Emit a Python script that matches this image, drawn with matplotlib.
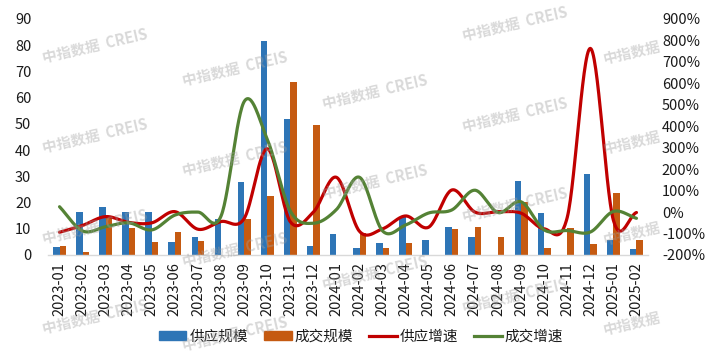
import numpy as np
import matplotlib
matplotlib.use("Agg")
import matplotlib.pyplot as plt
from matplotlib.ticker import FuncFormatter, MultipleLocator
from matplotlib.patches import Patch
from matplotlib.lines import Line2D

plt.rcParams['font.family'] = ['Noto Sans CJK SC', 'DejaVu Sans']

months = ['2023-01', '2023-02', '2023-03', '2023-04', '2023-05', '2023-06', '2023-07',
          '2023-08', '2023-09', '2023-10', '2023-11', '2023-12', '2024-01', '2024-02',
          '2024-03', '2024-04', '2024-05', '2024-06', '2024-07', '2024-08', '2024-09',
          '2024-10', '2024-11', '2024-12', '2025-01', '2025-02']

supply_scale = [3.2, 16.5, 18.2, 16.5, 16.5, 5.1, 7.0, 13.7, 27.8, 81.6, 51.9, 3.5, 8.0,
                2.7, 4.5, 14.4, 5.8, 10.6, 6.9, 0, 28.2, 16.1, 0, 30.9, 5.8, 2.4]
deal_scale = [3.5, 1.0, 14.6, 10.3, 4.8, 8.6, 5.2, 0, 13.7, 22.6, 66.1, 49.5, 0,
              8.3, 2.7, 4.5, 0, 9.8, 10.7, 6.9, 20.1, 2.8, 10.2, 4.3, 23.5, 5.8]
supply_growth = [-94, -62, -21, -48, -50, 2, -80, -44, -30, 295, -45, 0, 162, -90,
                 -78, -18, -70, 103, 0, 2, -5, -78, -25, 763, -38, -2]
deal_growth = [25, -88, -68, -50, -83, -14, 0, -18, 515, 340, 5, -52, 12, 162,
               -88, -60, -4, 10, 102, -2, 48, -83, -86, -93, 3, -29]

legend_labels = ['供应规模', '成交规模', '供应增速', '成交增速']

C_BLUE = '#2E75B6'
C_ORANGE = '#C55A11'
C_RED = '#C00000'
C_GREEN = '#548235'
TXT = '#1a1a1a'


def smooth(y, n=30):
    """Catmull-Rom (Excel-like) smoothing through the points."""
    y = np.asarray(y, dtype=float)
    x = np.arange(len(y), dtype=float)
    m = np.zeros_like(y)
    m[1:-1] = (y[2:] - y[:-2]) / 2
    m[0] = y[1] - y[0]
    m[-1] = y[-1] - y[-2]
    xs, ys = [], []
    for i in range(len(y) - 1):
        t = np.linspace(0, 1, n, endpoint=False)
        h00 = 2 * t**3 - 3 * t**2 + 1
        h10 = t**3 - 2 * t**2 + t
        h01 = -2 * t**3 + 3 * t**2
        h11 = t**3 - t**2
        ys.append(h00 * y[i] + h10 * m[i] + h01 * y[i + 1] + h11 * m[i + 1])
        xs.append(x[i] + t)
    xs.append([x[-1]])
    ys.append([y[-1]])
    return np.concatenate(xs), np.concatenate(ys)


W, H = 715, 355
fig = plt.figure(figsize=(W / 100, H / 100), dpi=100)
L, R, T, B = 48, 648, 19, 255
ax = fig.add_axes([L / W, 1 - B / H, (R - L) / W, (B - T) / H])
ax2 = ax.twinx()

x = np.arange(len(months))
bw = 0.28
ax.bar(x - bw / 2, supply_scale, bw, color=C_BLUE, zorder=2)
ax.bar(x + bw / 2, deal_scale, bw, color=C_ORANGE, zorder=2)
ax.set_xlim(-0.5, len(months) - 0.5)
ax.set_ylim(0, 90)
ax.yaxis.set_major_locator(MultipleLocator(10))
ax.set_xticks(x)
ax.set_xticklabels(months, rotation=90, fontsize=10.5, color=TXT)
ax.tick_params(axis='x', length=0, pad=5)
ax.tick_params(axis='y', length=0, pad=12, labelsize=10.5, labelcolor=TXT)

sx, sy = smooth(supply_growth)
gx, gy = smooth(deal_growth)
ax2.plot(sx, sy, color=C_RED, lw=2.3, solid_capstyle='round', zorder=3)
ax2.plot(gx, gy, color=C_GREEN, lw=2.3, solid_capstyle='round', zorder=3)
ax2.set_ylim(-200, 900)
ax2.yaxis.set_major_locator(MultipleLocator(100))
ax2.yaxis.set_major_formatter(FuncFormatter(lambda v, p: f'{v:.0f}%'))
ax2.tick_params(axis='y', length=0, pad=10, labelsize=10.5, labelcolor=TXT)

for a in (ax, ax2):
    for s in ('top', 'left', 'right'):
        a.spines[s].set_visible(False)
    a.spines['bottom'].set_color('#d9d9d9')
    a.spines['bottom'].set_linewidth(1.0)
ax2.spines['bottom'].set_visible(False)

handles = [Patch(color=C_BLUE), Patch(color=C_ORANGE),
           Line2D([], [], color=C_RED, lw=2.3), Line2D([], [], color=C_GREEN, lw=2.3)]
fig.legend(handles, legend_labels, loc='center', bbox_to_anchor=(361 / W, 1 - 337 / H),
           ncol=4, frameon=False, fontsize=10.5, handlelength=1.9, handleheight=0.55,
           handletextpad=0.2, columnspacing=1.1, labelcolor=TXT)

# watermarks
wm_kw = dict(color='#a0a0a0', alpha=0.40, fontsize=10.5, fontweight='bold',
             rotation=13, ha='center', va='center', zorder=10)
for k in range(4):
    for j in range(-1, 4):
        cx = 95 + 140 * k
        cy = 45.5 + 23 * k + 90.5 * j
        if 15 < cy < H - 15:
            fig.text(cx / W, 1 - cy / H, '中指数据  CREIS', **wm_kw)
fig.text(235 / W, 1 - 334 / H, '中指数据  CREIS', **wm_kw)
for j in range(4):
    cy = 52 + 90.5 * j
    fig.text(632 / W, 1 - cy / H, '中指数据', **wm_kw)

fig.savefig('out.png', dpi=100)
